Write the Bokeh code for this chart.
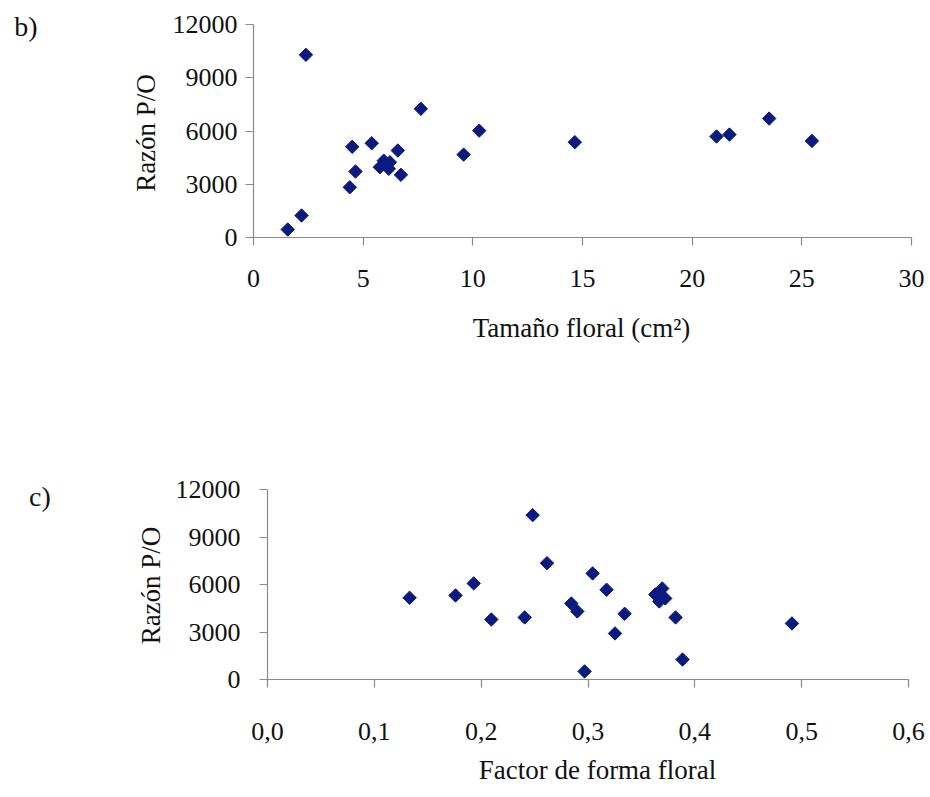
import numpy as np
from bokeh.plotting import figure
from bokeh.layouts import column
from bokeh.models import FixedTicker, Range1d, Label
from bokeh.embed import file_html
from bokeh.resources import INLINE

# Panel b: floral size (cm2) vs P/O ratio
b_size = [1.56, 2.19, 2.39, 4.39, 4.50, 4.65, 5.39, 5.76, 5.94, 6.22, 6.17,
          6.58, 6.72, 7.63, 9.58, 10.29, 14.65, 21.11, 21.70, 23.51, 25.46]
b_po = [450, 1240, 10290, 2830, 5110, 3720, 5310, 3960, 4330, 4240, 3870,
        4900, 3530, 7250, 4670, 6020, 5370, 5690, 5800, 6700, 5440]

# Panel c: floral shape factor vs P/O ratio
c_shape = [0.133, 0.176, 0.193, 0.2095, 0.2407, 0.2482, 0.2616, 0.2844, 0.290,
           0.2968, 0.3043, 0.3174, 0.3253, 0.3343, 0.363, 0.3695, 0.3723, 0.3667,
           0.382, 0.3885, 0.4909]
c_po = [5160, 5310, 6070, 3790, 3920, 10380, 7350, 4800, 4300,
        510, 6700, 5670, 2910, 4150, 5370, 5750, 5120, 4930,
        3920, 1260, 3540]

b_xlim = (0, 30)
c_xlim = (0.0, 0.6)
y_lim = (0, 12000)
b_xticks = [0, 5, 10, 15, 20, 25, 30]
y_ticks = [0, 3000, 6000, 9000, 12000]
c_xticks = [0.0, 0.1, 0.2, 0.3, 0.4, 0.5, 0.6]
c_xlabels = ["0,0", "0,1", "0,2", "0,3", "0,4", "0,5", "0,6"]
b_xtitle = "Tamaño floral (cm²)"
c_xtitle = "Factor de forma floral"
ytitle = "Razón P/O"

FONT = "Liberation Serif"
MARK = "#0b1a7e"
AXC = "#8a8a8a"
INK = "#111111"
W = 928


class Panel:
    """Maps the panel's pixel layout (frame = whole canvas) to data ranges."""

    def __init__(self, xlim, ylim, ax_left, ax_right, ax_top, ax_bottom, h):
        self.xlim, self.ylim = xlim, ylim
        self.ax_left, self.ax_bottom = ax_left, ax_bottom
        self.sx = (xlim[1] - xlim[0]) / (ax_right - ax_left)
        self.sy = (ylim[1] - ylim[0]) / (ax_bottom - ax_top)
        self.h = h

    def x(self, px):
        return self.xlim[0] + (px - self.ax_left) * self.sx

    def y(self, py):
        return self.ylim[0] + (self.ax_bottom - py) * self.sy

    def ranges(self):
        return Range1d(self.x(0), self.x(W)), Range1d(self.y(self.h), self.y(0))


def make(pn, xs, ys, xticks, xtitle, xtitle_at, ytitle_at, tag, tag_at,
         xstand, ystand, overrides=None):
    xr, yr = pn.ranges()
    p = figure(width=W, height=pn.h, output_backend="svg", toolbar_location=None,
               x_range=xr, y_range=yr, min_border=0,
               min_border_left=0, min_border_right=0, min_border_top=0,
               min_border_bottom=0)
    p.scatter(xs, ys, marker="square", angle=np.pi / 4, size=9.5,
              fill_color=MARK, line_color=MARK)
    p.grid.visible = False
    p.outline_line_color = None
    for ax in (p.xaxis[0], p.yaxis[0]):
        ax.axis_line_color = AXC
        ax.axis_line_width = 1.2
        ax.major_tick_line_color = AXC
        ax.major_tick_line_width = 1.2
        ax.major_tick_in = 0
        ax.major_tick_out = 8
        ax.minor_tick_line_color = None
        ax.major_label_text_font = FONT
        ax.major_label_text_font_size = "26px"
        ax.major_label_text_color = INK
    p.xaxis[0].ticker = FixedTicker(ticks=xticks)
    p.yaxis[0].ticker = FixedTicker(ticks=y_ticks)
    p.xaxis[0].bounds = pn.xlim
    p.yaxis[0].bounds = pn.ylim
    p.xaxis[0].fixed_location = pn.ylim[0]
    p.yaxis[0].fixed_location = pn.xlim[0]
    p.xaxis[0].major_label_standoff = xstand
    p.yaxis[0].major_label_standoff = ystand
    if overrides:
        p.xaxis[0].major_label_overrides = overrides
    # axis titles and panel tag
    p.add_layout(Label(x=pn.x(xtitle_at[0]), y=pn.y(xtitle_at[1]), text=xtitle,
                       text_font=FONT, text_font_size="27px", text_color=INK,
                       text_align="center", text_baseline="alphabetic"))
    p.add_layout(Label(x=pn.x(ytitle_at[0]), y=pn.y(ytitle_at[1]), text=ytitle,
                       angle=np.pi / 2, text_font=FONT, text_font_size="27px",
                       text_color=INK, text_align="center",
                       text_baseline="alphabetic"))
    p.add_layout(Label(x=pn.x(tag_at[0]), y=pn.y(tag_at[1]), text=tag,
                       text_font=FONT, text_font_size="28px", text_color=INK,
                       text_align="center", text_baseline="middle"))
    return p


# panel b occupies page y 0..400, panel c page y 400..796
pb_map = Panel(b_xlim, y_lim, 253, 911, 24, 237, 400)
pb = make(pb_map, b_size, b_po, b_xticks, b_xtitle, (581, 327), (145, 132.5),
          "b)", (25.5, 26), 24, 8)

pc_map = Panel(c_xlim, y_lim, 267, 908, 89, 279, 396)
pc = make(pc_map, c_shape, c_po, c_xticks, c_xtitle, (597, 369), (150, 185),
          "c)", (39.5, 95.5), 35, 19,
          overrides={t: l for t, l in zip(c_xticks, c_xlabels)})

layout = column(pb, pc, spacing=0)
open("out.html", "w").write(file_html(layout, INLINE))
